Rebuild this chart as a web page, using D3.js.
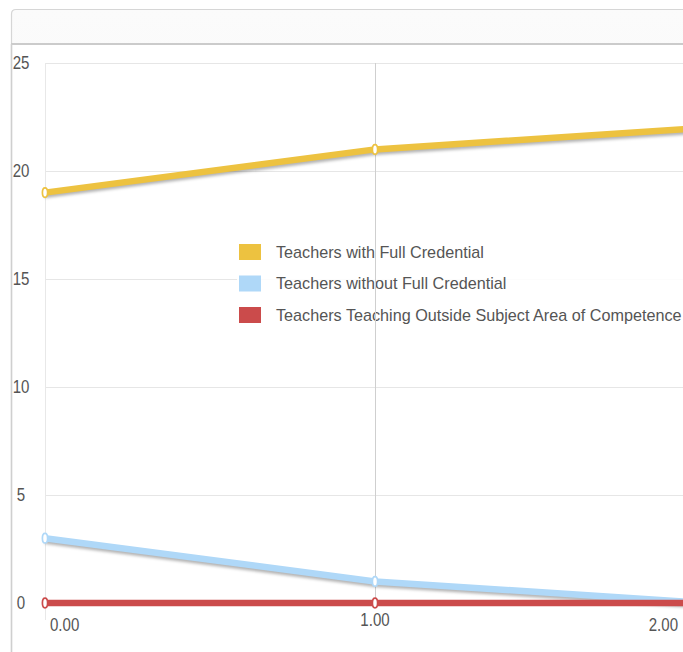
<!DOCTYPE html>
<html>
<head>
<meta charset="utf-8">
<script src="https://cdnjs.cloudflare.com/ajax/libs/d3/7.8.5/d3.min.js"></script>
<style>
body { margin: 0; background: #fff; overflow: hidden; }
text { font-family: "Liberation Sans", Arial, sans-serif; }
</style>
</head>
<body>
<div id="chart"></div>
<script>

// data
var xValues = [0, 1, 2];
var xTickLabels = ["0.00", "1.00", "2.00"];
var yTicks = [0, 5, 10, 15, 20, 25];
var seriesNames = [
  "Teachers with Full Credential",
  "Teachers without Full Credential",
  "Teachers Teaching Outside Subject Area of Competence"
];
var withFull = [19, 21, 22];
var withoutFull = [3, 1, 0];
var outsideArea = [0, 0, 0];
var seriesColors = ["#edc240", "#afd8f8", "#cb4b4b"];

var series = [withFull, withoutFull, outsideArea];

var W = 683, H = 652;
var svg = d3.select("#chart").append("svg")
    .attr("width", W)
    .attr("height", H);

var defs = svg.append("defs");
var grad = defs.append("linearGradient")
    .attr("id", "hdr").attr("x1", 0).attr("y1", 0).attr("x2", 0).attr("y2", 1);
grad.append("stop").attr("offset", "0%").attr("stop-color", "#fbfbfb");
grad.append("stop").attr("offset", "100%").attr("stop-color", "#efefef");
defs.append("filter").attr("id", "blur")
    .attr("x", "-5%").attr("y", "-50%").attr("width", "110%").attr("height", "200%")
  .append("feGaussianBlur").attr("stdDeviation", 1.6);

// panel + header
svg.append("path")
    .attr("d", "M11.5," + H + " L11.5,14 Q11.5,9.5 16,9.5 L" + (W + 10) + ",9.5 L" + (W + 10) + ",44 L11.5,44 Z")
    .attr("fill", "url(#hdr)")
    .attr("stroke", "#d6d6d6")
    .attr("stroke-width", 1.2);
svg.append("line")
    .attr("x1", 11).attr("x2", W).attr("y1", 44).attr("y2", 44)
    .attr("stroke", "#cbcbcb").attr("stroke-width", 2);
svg.append("line")
    .attr("x1", 11.5).attr("x2", 11.5).attr("y1", 44).attr("y2", H)
    .attr("stroke", "#cfcfcf").attr("stroke-width", 1.5);

var x = d3.scaleLinear().domain([0, 2]).range([45, 705]);
var y = d3.scaleLinear().domain([0, 25]).range([603, 63]);

// grid
var grid = svg.append("g");
grid.selectAll("line.h").data(yTicks).enter().append("line")
    .attr("x1", 45).attr("x2", 720)
    .attr("y1", function(d) { return Math.round(y(d)) + 0.5; })
    .attr("y2", function(d) { return Math.round(y(d)) + 0.5; })
    .attr("stroke", "#e6e6e6").attr("stroke-width", 1);
grid.append("line")
    .attr("x1", 45.5).attr("x2", 45.5).attr("y1", 63).attr("y2", 620)
    .attr("stroke", "#e8e8e8");

// tick labels are tall and a bit narrow in the original
function squeeze(sel) {
  sel.each(function() {
    var w = this.getComputedTextLength();
    d3.select(this).attr("textLength", w * 0.86).attr("lengthAdjust", "spacingAndGlyphs");
  });
}

// y labels
svg.selectAll("text.ylab").data(yTicks).enter().append("text")
    .attr("class", "ylab")
    .attr("x", 21)
    .attr("y", function(d) { return y(d); })
    .attr("dy", "0.36em")
    .attr("text-anchor", "middle")
    .attr("font-size", 17.5)
    .attr("fill", "#555")
    .text(function(d) { return d; })
    .call(squeeze);

// x labels
svg.selectAll("text.xlab").data(xValues).enter().append("text")
    .attr("class", "xlab")
    .attr("x", function(d, i) { return i == 0 ? 50 : (i == xValues.length - 1 ? 678 : x(d)); })
    .attr("y", function(d, i) { return (i == 0 || i == xValues.length - 1) ? 625 : 620; })
    .attr("dy", "0.36em")
    .attr("text-anchor", function(d, i) { return i == 0 ? "start" : (i == xValues.length - 1 ? "end" : "middle"); })
    .attr("font-size", 17.5)
    .attr("fill", "#555")
    .text(function(d, i) { return xTickLabels[i]; })
    .call(squeeze);

// legend
var legend = svg.append("g");
legend.append("rect")
    .attr("x", 237).attr("y", 238).attr("width", 460).attr("height", 92)
    .attr("fill", "#fff").attr("opacity", 0.85);
var lrow = legend.selectAll("g.row").data(seriesNames).enter().append("g")
    .attr("transform", function(d, i) { return "translate(239," + (252 + i * 31.5) + ")"; });
lrow.append("rect")
    .attr("x", 0).attr("y", -8).attr("width", 22).attr("height", 16)
    .attr("fill", function(d, i) { return seriesColors[i]; });
lrow.append("text")
    .attr("x", 37).attr("y", 0).attr("dy", "0.36em")
    .attr("font-size", 16.2)
    .attr("fill", "#555")
    .text(function(d) { return d; });

// vertical line at 1.00 sits on top of the legend
svg.append("line")
    .attr("x1", x(1) + 0.5).attr("x2", x(1) + 0.5).attr("y1", 63).attr("y2", 603)
    .attr("stroke", "#cfcfcf");

var line = d3.line()
    .x(function(d, i) { return x(xValues[i]); })
    .y(function(d) { return y(d); });

series.forEach(function(vals, s) {
  svg.append("path")
      .attr("d", line(vals))
      .attr("transform", "translate(0,3)")
      .attr("fill", "none")
      .attr("stroke", "rgba(0,0,0,0.3)")
      .attr("stroke-width", 5)
      .attr("filter", "url(#blur)");
  svg.append("path")
      .attr("d", line(vals))
      .attr("fill", "none")
      .attr("stroke", seriesColors[s])
      .attr("stroke-width", 6.5);
  svg.selectAll(null).data(vals).enter().append("ellipse")
      .attr("cx", function(d, i) { return x(xValues[i]); })
      .attr("cy", function(d) { return y(d); })
      .attr("rx", 2.6).attr("ry", 4.8)
      .attr("fill", "#fff")
      .attr("stroke", seriesColors[s])
      .attr("stroke-width", 1.7);
});

</script>
</body>
</html>
